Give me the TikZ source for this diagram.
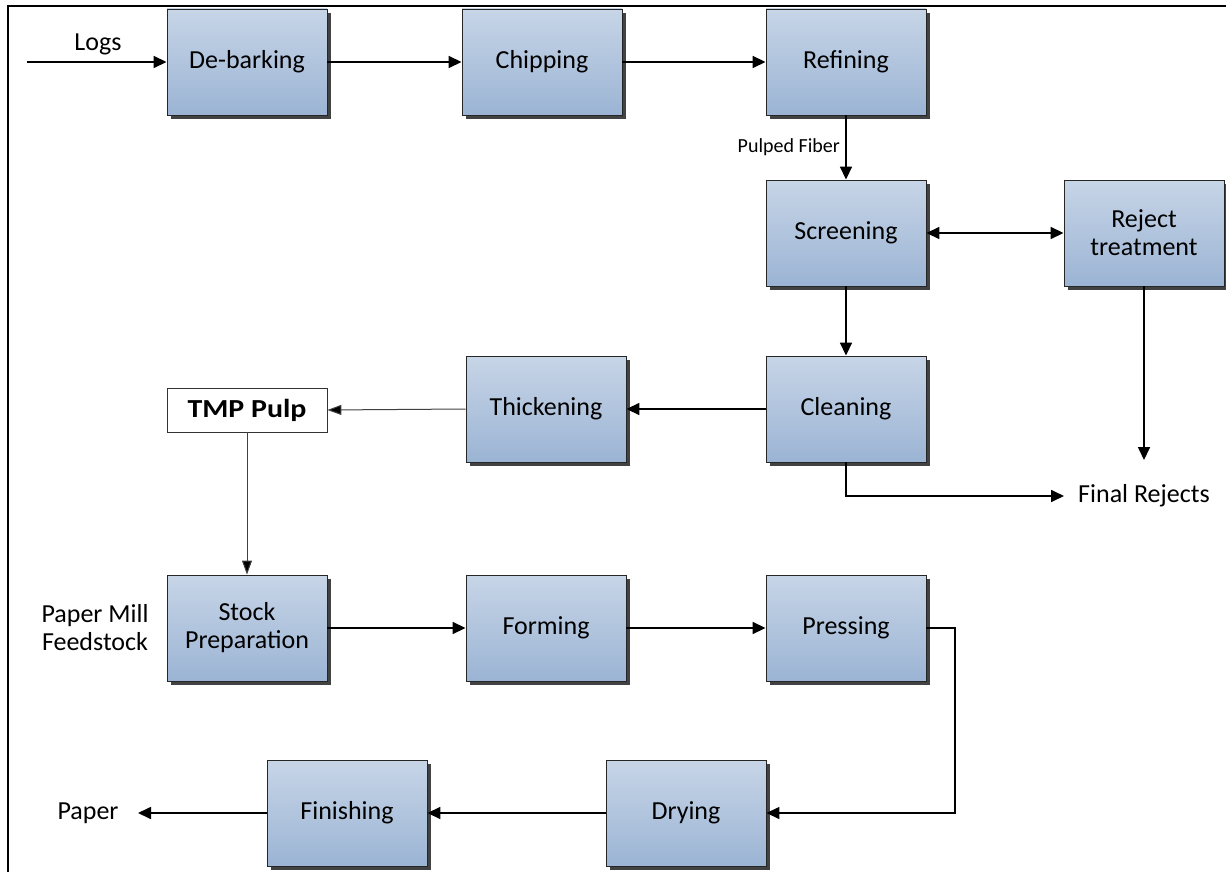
\documentclass[tikz,border=0pt]{standalone}
\usepackage{fontspec}
\setmainfont{Carlito}
\usetikzlibrary{arrows.meta,shadows}
\definecolor{boxtop}{RGB}{199,213,231}
\definecolor{boxbot}{RGB}{155,180,212}
\definecolor{shadowgray}{RGB}{66,66,66}
\tikzset{
  stage/.style={draw=black!85, line width=0.9pt, top color=boxtop, bottom color=boxbot,
    minimum width=160pt, minimum height=106pt, inner sep=0pt, align=center,
    font=\fontsize{26}{28}\selectfont,
    general shadow={fill=shadowgray, shadow xshift=4pt, shadow yshift=-4pt}},
  product/.style={draw=black!80, line width=0.8pt, fill=white, minimum width=160pt,
    minimum height=44pt, inner sep=0pt, font=\fontsize{26}{28}\selectfont\bfseries},
  lab/.style={inner sep=0pt, align=center, font=\fontsize{26}{28}\selectfont},
  smalllab/.style={inner sep=0pt, font=\fontsize{20}{22}\selectfont},
  flow/.style={line width=1.7pt, -{Triangle[length=13pt,width=12pt]}},
  twoway/.style={line width=1.7pt, {Triangle[length=13pt,width=12pt]}-{Triangle[length=13pt,width=12pt]}},
  thinflow/.style={line width=1pt, draw=black!75, -{Triangle[length=14pt,width=10pt,fill=black]}},
}
\begin{document}
\begin{tikzpicture}[x=1pt, y=-1pt]
  \useasboundingbox (0,0) rectangle (1226,872);
  % page frame (top and left edges)
  \draw[line width=2.2pt] (8,872) -- (8,6) -- (1226,6);

  % pulping line
  \node[stage] (debark) at (247,62) {De-barking};
  \node[stage] (chip)   at (542,62) {Chipping};
  \node[stage] (refine) at (846,62) {Refining};
  \node[stage] (screen) at (846,233) {Screening};
  \node[stage] (reject) at (1144,233) {Reject\\treatment};
  \node[stage] (clean)  at (846,409) {Cleaning};
  \node[stage] (thick)  at (546,409) {Thickening};
  \node[product] (tmp)  at (247,410) {\scalebox{1.15}[1]{TMP Pulp}};

  % paper machine line
  \node[stage] (stock)  at (247,628) {Stock\\Preparation};
  \node[stage] (form)   at (546,628) {Forming};
  \node[stage] (press)  at (846,628) {Pressing};
  \node[stage] (dry)    at (686,813) {Drying};
  \node[stage] (finish) at (347,813) {Finishing};

  % labels
  \node[lab] (logs) at (98,44) {Logs};
  \node[smalllab, anchor=east] (fiber) at (840,147) {Pulped Fiber};
  \node[lab, anchor=west] (final) at (1078,496) {Final Rejects};
  \node[lab] (feed) at (95,628) {Paper Mill\\Feedstock};
  \node[lab] (paper) at (88,813) {Paper};

  \coordinate (logsin) at (27,62);
  \coordinate (rejend) at (1144,460);
  \coordinate (finalin) at (1064,496);
  \coordinate (pressturn) at (955,628);
  \coordinate (paperin) at (138,813);

  % connectors
  \draw[flow] (logsin) -- (debark.west);
  \draw[flow] (debark) -- (chip);
  \draw[flow] (chip) -- (refine);
  \draw[flow] (refine) -- (screen);
  \draw[twoway] (screen) -- (reject);
  \draw[flow] (screen) -- (clean);
  \draw[flow] (reject) -- (rejend);
  \draw[flow] (clean.south) |- (finalin);
  \draw[flow] (clean) -- (thick);
  \draw[thinflow] (thick.west) -- (tmp.east);
  \draw[thinflow] (tmp.south) -- (stock.north);
  \draw[flow] (stock) -- (form);
  \draw[flow] (form) -- (press);
  \draw[flow, line width=1.5pt] (press.east) -- (pressturn) |- (dry.east);
  \draw[flow] (dry) -- (finish);
  \draw[flow] (finish.west) -- (paperin);
\end{tikzpicture}
\end{document}
